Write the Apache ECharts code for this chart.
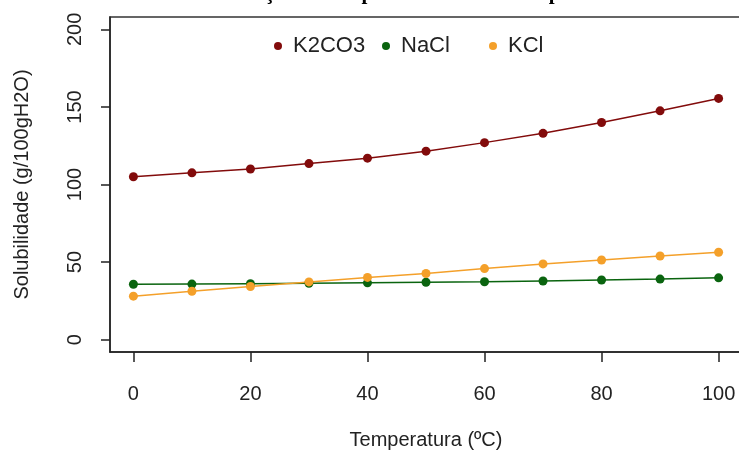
<!DOCTYPE html>
<html>
<head>
<meta charset="utf-8">
<script src="https://cdn.jsdelivr.net/npm/echarts@6/dist/echarts.min.js"></script>
<style>
  html, body { margin: 0; padding: 0; background: #fff; }
  #chart { width: 739px; height: 452px; }
</style>
</head>
<body>
<div id="chart"></div>
<script>
// temperatura (ºC)
const temps = [0, 10, 20, 30, 40, 50, 60, 70, 80, 90, 100]
// solubilidade (g/100g H2O)
const k2co3 = [105, 107.5, 110, 113.5, 117, 121.5, 127, 133, 140, 147.5, 155.5]
const nacl = [35.7, 35.8, 36, 36.3, 36.6, 37, 37.3, 37.8, 38.4, 39, 39.8]
const kcl = [28, 31.2, 34.2, 37.2, 40.1, 42.6, 45.8, 48.8, 51.3, 53.9, 56.3]
const xTicks = [0, 20, 40, 60, 80, 100]
const yTicks = [0, 50, 100, 150, 200]
const names = ['K2CO3', 'NaCl', 'KCl']
const colors = ['#820b0b', '#0a640f', '#f4a02a']

const pairs = (ys) => temps.map((t, i) => [t, ys[i]])

let myCharts = echarts.init(document.getElementById('chart'))
const font = 'Liberation Sans, Arial, sans-serif'

const mkSeries = (name, data, color) => ({
  name: name,
  type: 'line',
  data: pairs(data),
  symbol: 'circle',
  symbolSize: 9,
  itemStyle: { color: color },
  lineStyle: { color: color, width: 1.5 },
  emphasis: { disabled: true },
})

// legenda do R: colunas de largura igual, uma legenda por item
const legendLeft = [274, 382, 489]
const legends = names.map((n, i) => ({
  left: legendLeft[i],
  top: 35,
  padding: 0,
  icon: 'circle',
  itemWidth: 20,
  itemHeight: 8,
  textStyle: { fontFamily: font, fontSize: 22, color: '#222' },
  data: [n],
}))

myCharts.setOption({
  animation: false,
  title: {
    text: 'Solubilidade em função da temperatura de três compostos',
    left: 80,
    top: -22,
    textStyle: {
      fontFamily: 'Liberation Serif, serif',
      fontWeight: 'bold',
      fontSize: 21,
      color: '#000',
    },
  },
  legend: legends,
  grid: {
    left: 110,
    top: 17,
    width: 632,
    height: 335,
    outerBoundsMode: 'none',
    containLabel: false,
    show: true,
    borderColor: '#333',
    borderWidth: 1.5,
  },
  xAxis: {
    type: 'value',
    min: -4,
    max: 104,
    name: 'Temperatura (ºC)',
    nameLocation: 'middle',
    nameGap: 78,
    nameTextStyle: { fontFamily: font, fontSize: 20, color: '#222' },
    axisLine: { show: true, onZero: false, lineStyle: { color: '#222', width: 1.5 } },
    axisTick: { show: true, length: 10, customValues: xTicks, lineStyle: { color: '#222', width: 1.5 } },
    axisLabel: { customValues: xTicks, margin: 32, fontFamily: font, fontSize: 20, color: '#222' },
    splitLine: { show: false },
  },
  yAxis: {
    type: 'value',
    min: -8,
    max: 208,
    name: 'Solubilidade (g/100gH2O)',
    nameLocation: 'middle',
    nameGap: 78,
    nameTextStyle: { fontFamily: font, fontSize: 20, color: '#222' },
    axisLine: { show: true, onZero: false, lineStyle: { color: '#222', width: 1.5 } },
    axisTick: { show: true, length: 9, customValues: yTicks, lineStyle: { color: '#222', width: 1.5 } },
    axisLabel: { customValues: yTicks, rotate: 90, margin: 25, fontFamily: font, fontSize: 20, color: '#222' },
    splitLine: { show: false },
  },
  series: [
    mkSeries(names[0], k2co3, colors[0]),
    mkSeries(names[1], nacl, colors[1]),
    mkSeries(names[2], kcl, colors[2]),
  ],
})
</script>
</body>
</html>
